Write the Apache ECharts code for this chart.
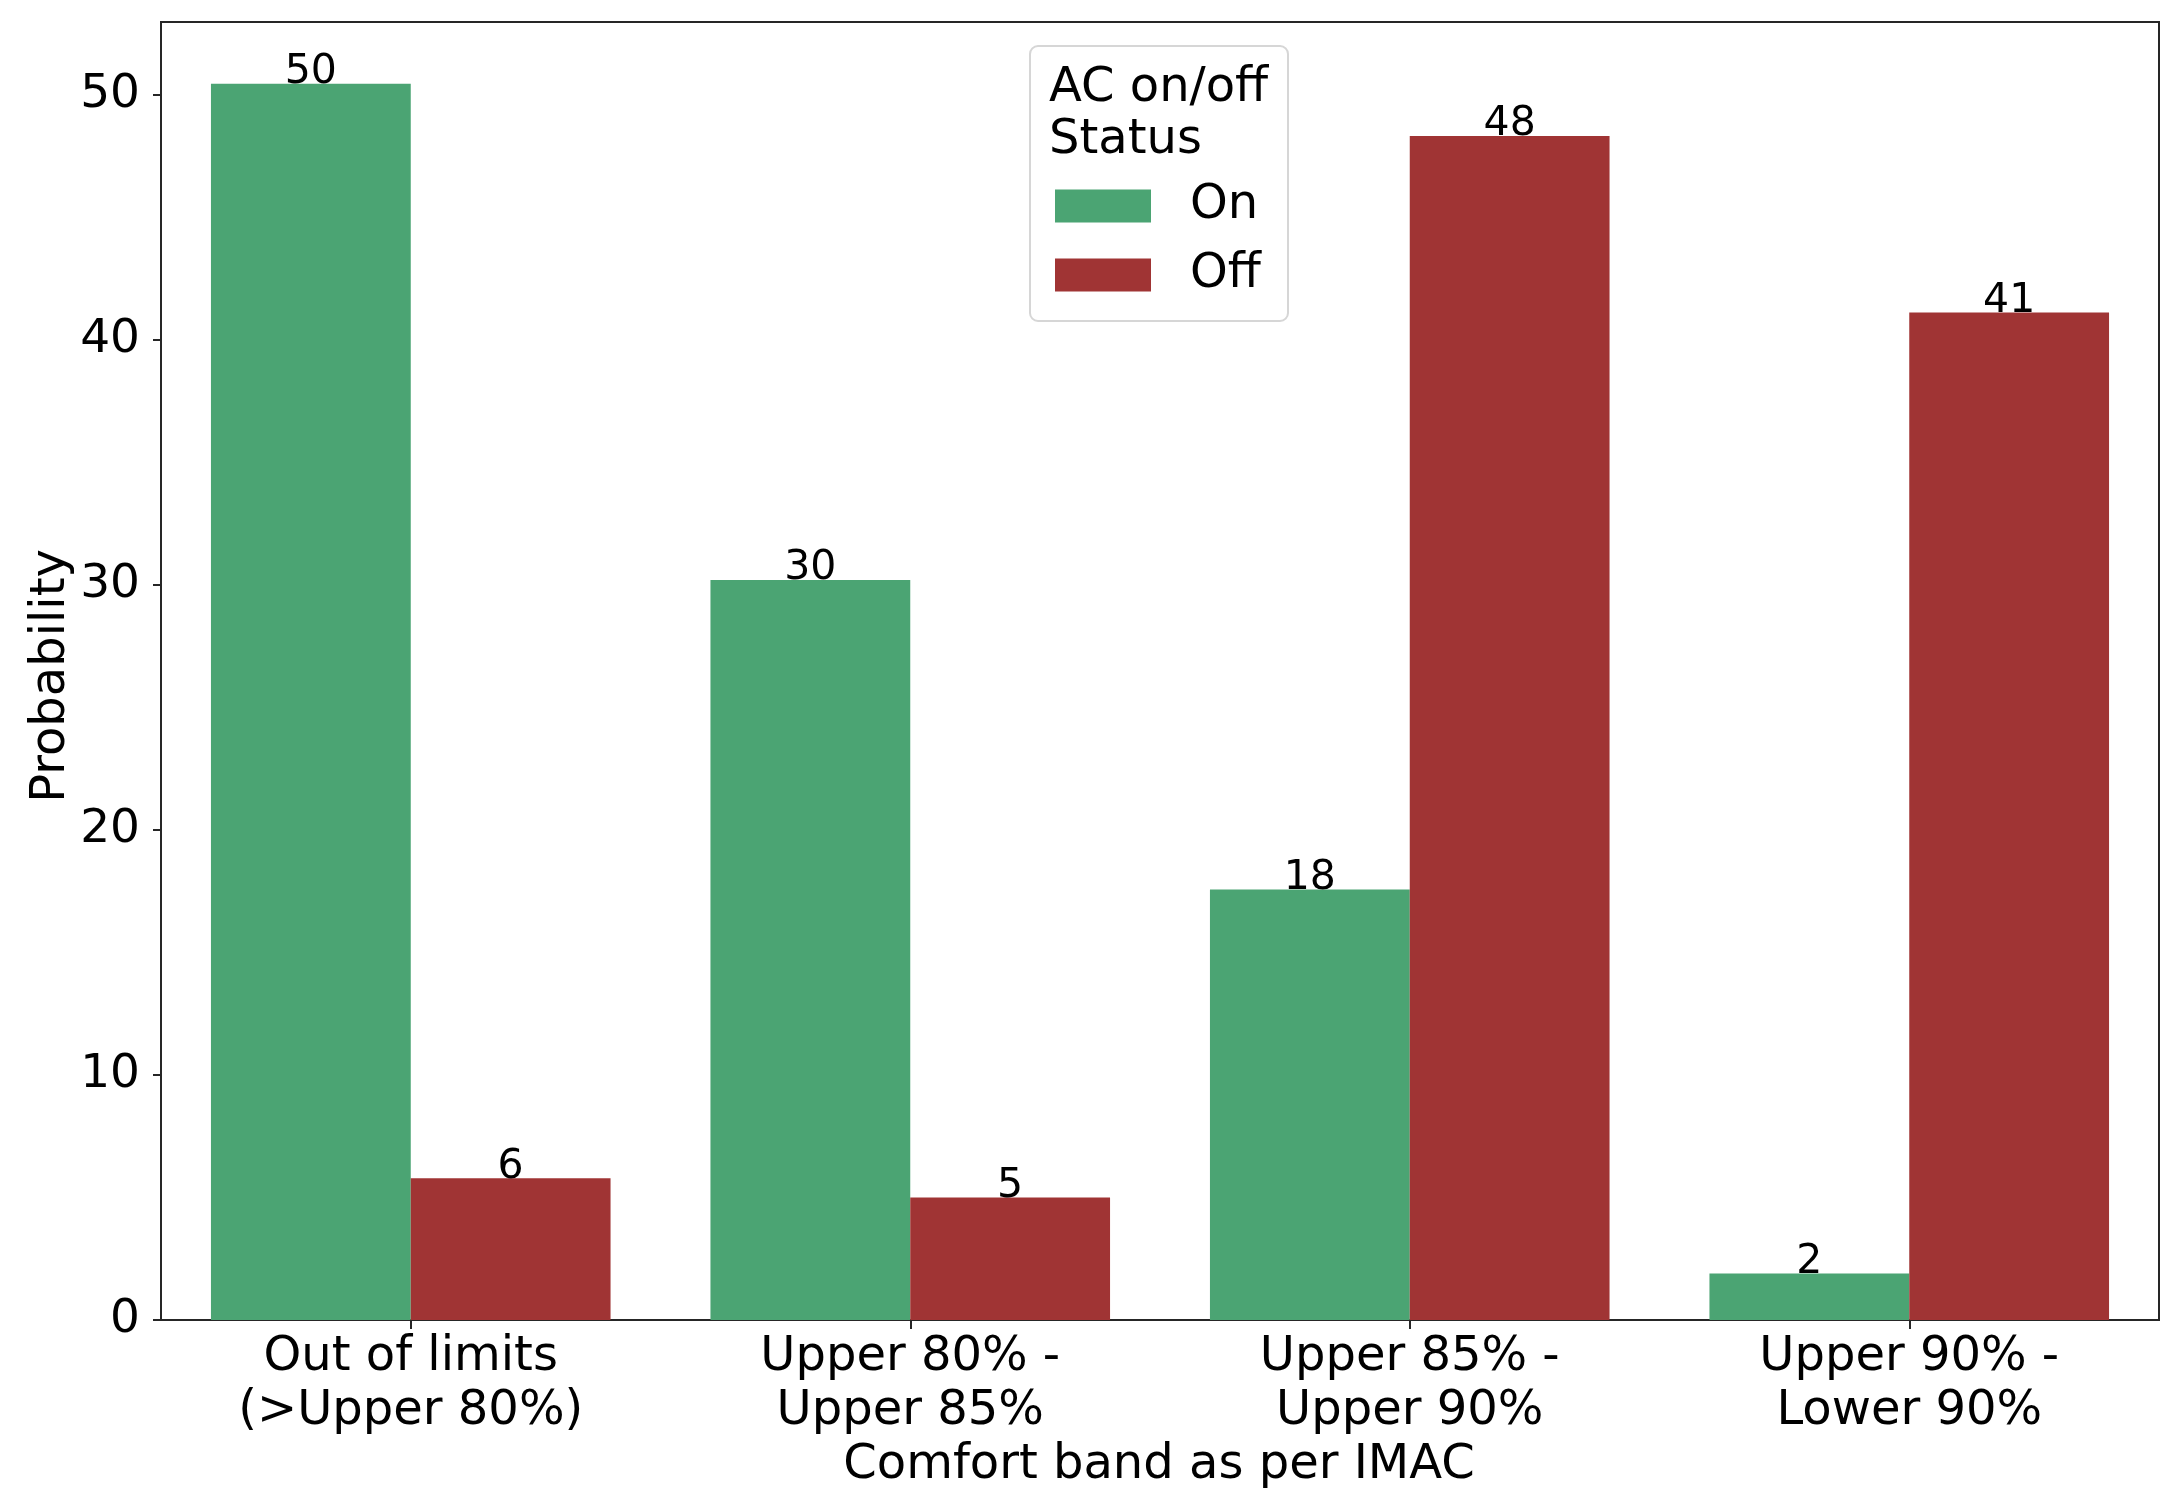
<!DOCTYPE html>
<html>
<head>
<meta charset="utf-8">
<script src="https://cdn.jsdelivr.net/npm/echarts@6/dist/echarts.min.js"></script>
<style>
html,body{margin:0;padding:0;background:#fff;}
#chart{width:2176px;height:1508px;}
</style>
</head>
<body>
<div id="chart"></div>
<script>
// Data
const categories = ["Out of limits\n(>Upper 80%)", "Upper 80% -\nUpper 85%", "Upper 85% -\nUpper 90%", "Upper 90% -\nLower 90%"];
const onValues = [50.45, 30.2, 17.57, 1.9];
const offValues = [5.78, 5.0, 48.32, 41.11];
const yTicks = [0, 10, 20, 30, 40, 50];
const seriesNames = ["On", "Off"];
const legendTitle = ["AC on/off", "Status"];
const xTitle = "Comfort band as per IMAC";
const yTitle = "Probability";

const FONT = "DejaVu Sans";
const GREEN = "#4BA473";
const RED = "#A03434";
const AXIS = "#262626";

const chart = echarts.init(document.getElementById('chart'), null, {renderer: 'canvas'});

const valueLabel = {
  show: true,
  position: 'top',
  distance: 0,
  offset: [0, 9],
  fontFamily: FONT,
  fontSize: 41,
  color: '#000',
  formatter: p => String(Math.round(p.value))
};

const option = {
  animation: false,
  backgroundColor: '#fff',
  textStyle: {fontFamily: FONT},
  grid: {
    left: 161, right: 17, top: 22, bottom: 188,
    containLabel: false,
    outerBoundsMode: 'none',
    show: true,
    borderColor: AXIS,
    borderWidth: 2,
    backgroundColor: 'transparent'
  },
  xAxis: {
    type: 'category',
    data: categories,
    boundaryGap: true,
    axisLine: {show: true, lineStyle: {color: AXIS, width: 2}},
    axisTick: {show: true, alignWithLabel: true, length: 9, lineStyle: {color: AXIS, width: 2}},
    axisLabel: {
      fontFamily: FONT, fontSize: 48, lineHeight: 54, color: '#000',
      margin: 11, interval: 0, align: 'center'
    },
    splitLine: {show: false}
  },
  yAxis: {
    type: 'value',
    min: 0,
    max: 52.97,
    interval: 10,
    axisLine: {show: true, lineStyle: {color: AXIS, width: 2}},
    axisTick: {show: true, length: 8, lineStyle: {color: AXIS, width: 2}, customValues: yTicks},
    axisLabel: {
      fontFamily: FONT, fontSize: 47, color: '#000', margin: 21,
      customValues: yTicks
    },
    splitLine: {show: false}
  },
  legend: {
    orient: 'vertical',
    left: 1055,
    top: 182,
    padding: 0,
    itemWidth: 96,
    itemHeight: 33,
    itemGap: 21,
    icon: 'rect',
    selectedMode: false,
    data: seriesNames,
    textStyle: {fontFamily: FONT, fontSize: 48, color: '#000', padding: [8, 0, 0, 34]}
  },
  graphic: [
    {
      type: 'rect', z: -1,
      shape: {x: 1030, y: 46, width: 258, height: 275, r: 8},
      style: {fill: 'rgba(255,255,255,0.8)', stroke: '#d6d6d6', lineWidth: 2}
    },
    {
      type: 'text', x: 1049, y: 89,
      style: {text: legendTitle[0], font: '48px "DejaVu Sans"', fill: '#000', align: 'left', verticalAlign: 'middle'}
    },
    {
      type: 'text', x: 1049, y: 141,
      style: {text: legendTitle[1], font: '48px "DejaVu Sans"', fill: '#000', align: 'left', verticalAlign: 'middle'}
    },
    {
      type: 'text', x: 1159, y: 1466,
      style: {text: xTitle, font: '48px "DejaVu Sans"', fill: '#000', align: 'center', verticalAlign: 'middle'}
    },
    {
      type: 'text', x: 52, y: 676, rotation: Math.PI / 2,
      style: {text: yTitle, font: '48px "DejaVu Sans"', fill: '#000', align: 'center', verticalAlign: 'middle'}
    }
  ],
  series: [
    {
      name: seriesNames[0], type: 'bar', data: onValues,
      barGap: '0%', barCategoryGap: '20%',
      itemStyle: {color: GREEN},
      label: valueLabel
    },
    {
      name: seriesNames[1], type: 'bar', data: offValues,
      barGap: '0%', barCategoryGap: '20%',
      itemStyle: {color: RED},
      label: valueLabel
    }
  ]
};
chart.setOption(option);
</script>
</body>
</html>
